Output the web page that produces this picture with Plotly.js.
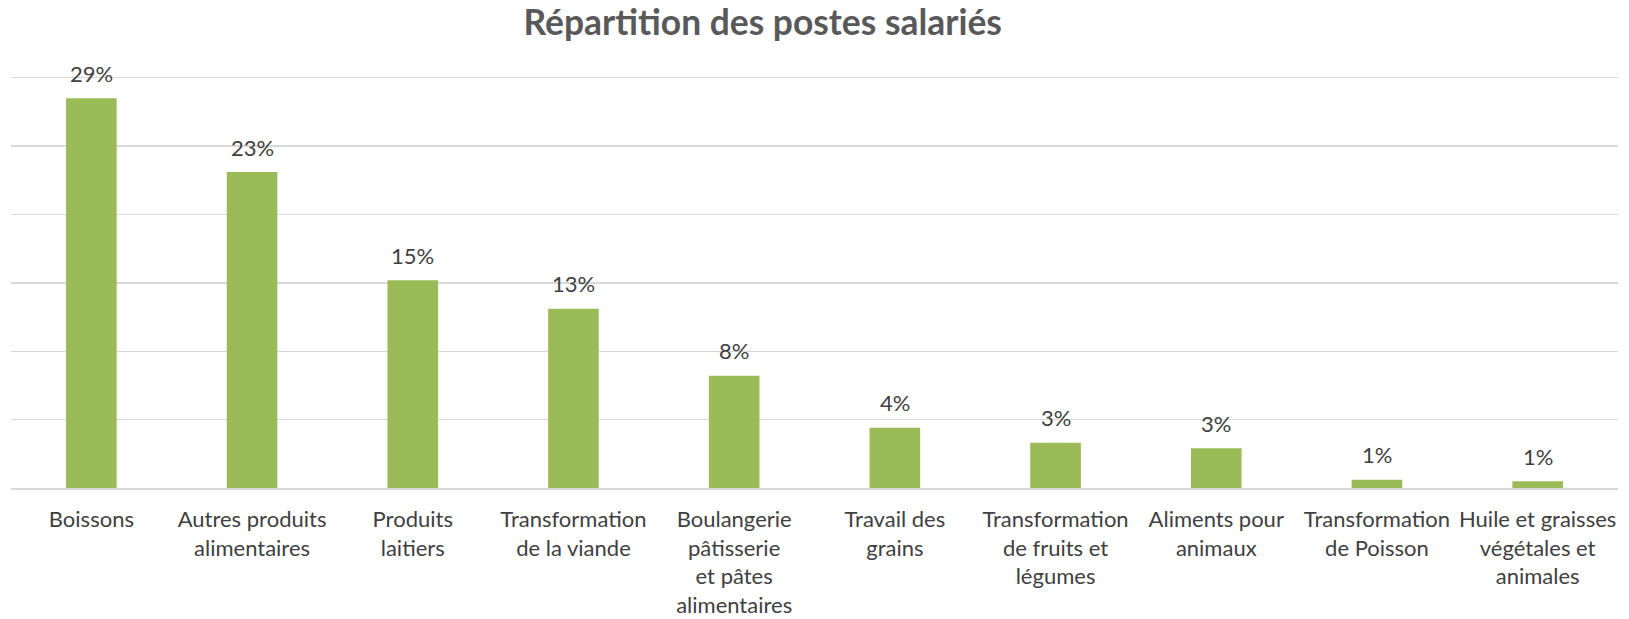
<!DOCTYPE html>
<html>
<head>
<meta charset="utf-8">
<script src="https://cdn.plot.ly/plotly-3.0.1.min.js"></script>
<style>html,body{margin:0;padding:0;background:#fff;}#chart{width:1629px;height:619px;}</style>
</head>
<body>
<div id="chart"></div>
<script>
const categories = [
  "Boissons",
  "Autres produits<br>alimentaires",
  "Produits<br>laitiers",
  "Transformation<br>de la viande",
  "Boulangerie<br>pâtisserie<br>et pâtes<br>alimentaires",
  "Travail des<br>grains",
  "Transformation<br>de fruits et<br>légumes",
  "Aliments pour<br>animaux",
  "Transformation<br>de Poisson",
  "Huile et graisses<br>végétales et<br>animales"
];
const values = [28.5, 23.1, 15.2, 13.1, 8.2, 4.4, 3.3, 2.9, 0.6, 0.5];
const valueLabels = ["29%", "23%", "15%", "13%", "8%", "4%", "3%", "3%", "1%", "1%"];
const chartTitle = "Répartition des postes salariés";

const FONT = "Lato, 'Open Sans', sans-serif";

const trace = {
  type: "bar",
  x: categories,
  y: values,
  marker: {color: "#9bbb59", line: {width: 0}},
  hoverinfo: "skip"
};

const annotations = categories.map((c, i) => ({
  x: c, y: values[i], xref: "x", yref: "y",
  text: valueLabels[i], showarrow: false,
  yanchor: "middle", yshift: 25,
  font: {family: FONT, size: 22, color: "#404040"}
}));

const layout = {
  width: 1629, height: 619,
  margin: {l: 11, r: 11, t: 75, b: 131, pad: 0},
  paper_bgcolor: "#ffffff", plot_bgcolor: "#ffffff",
  showlegend: false,
  bargap: 0.685,
  title: {
    text: "<b>" + chartTitle + "</b>",
    x: 762 / 1629, xanchor: "center", xref: "paper",
    y: 1 - 23 / 619, yanchor: "middle", yref: "container",
    font: {family: FONT, size: 35.4, color: "#595959"}
  },
  xaxis: {
    type: "category",
    showgrid: false, zeroline: false,
    showline: true, linecolor: "#d9d9d9", linewidth: 1.5,
    ticks: "", ticklabelstandoff: 11,
    tickfont: {family: FONT, size: 22, color: "#404040"},
    fixedrange: true
  },
  yaxis: {
    range: [0, 30.2], dtick: 5, tick0: 0,
    showgrid: true, gridcolor: "#d9d9d9", gridwidth: 1.3,
    zeroline: false, showline: false, showticklabels: false, ticks: "",
    fixedrange: true
  },
  annotations: annotations
};

Plotly.newPlot("chart", [trace], layout, {displayModeBar: false, staticPlot: true});
</script>
</body>
</html>
